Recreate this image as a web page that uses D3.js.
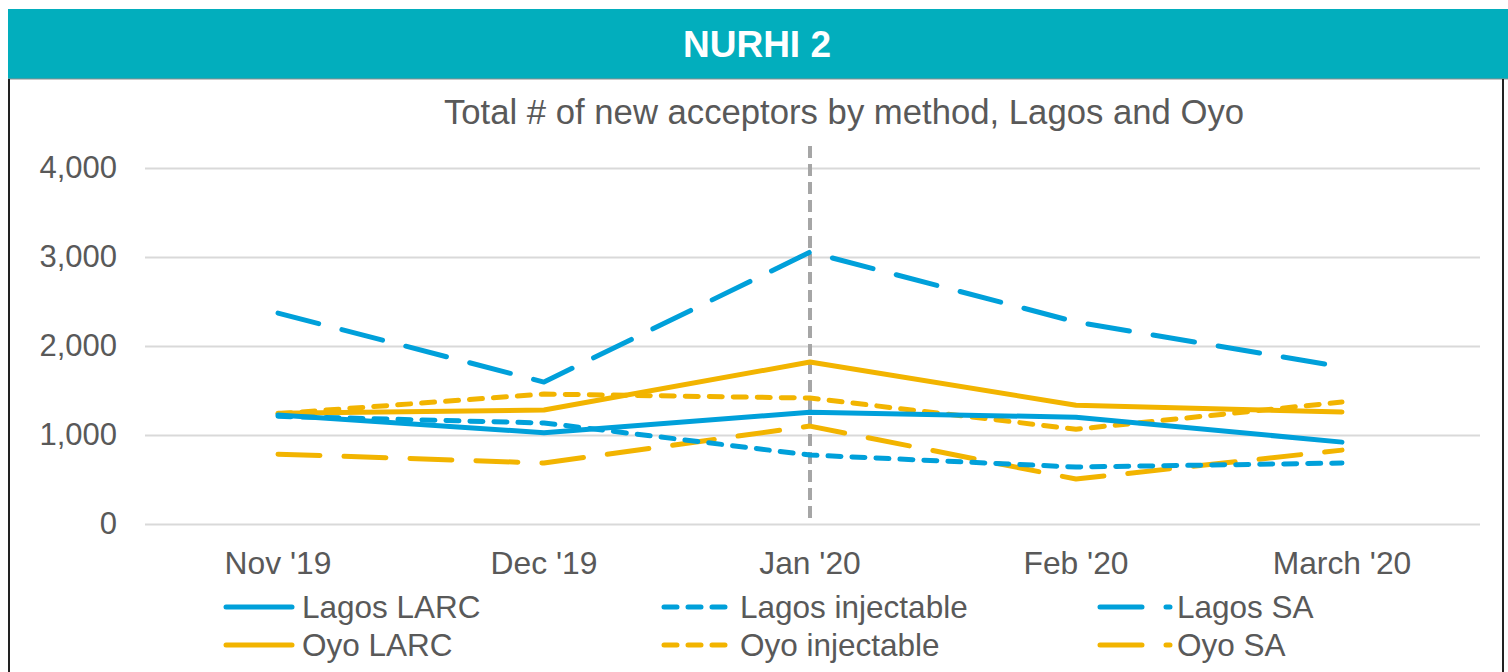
<!DOCTYPE html>
<html>
<head>
<meta charset="utf-8">
<script src="https://cdn.jsdelivr.net/npm/d3@7"></script>
<style>
body { margin: 0; background: #fff; }
text { font-family: "Liberation Sans", Arial, sans-serif; }
</style>
</head>
<body>
<script>
var months = ["Nov '19", "Dec '19", "Jan '20", "Feb '20", "March '20"];
var yTicks = [0, 1000, 2000, 3000, 4000];

var lagosLarc = [1225, 1025, 1255, 1200, 920];
var lagosInj  = [1210, 1135, 775, 640, 685];
var lagosSa   = [2370, 1595, 3055, 2270, 1765];
var oyoLarc   = [1245, 1280, 1820, 1335, 1258];
var oyoInj    = [1240, 1460, 1415, 1065, 1370];
var oyoSa     = [785, 685, 1100, 505, 830];

var seriesNames = ["Lagos LARC", "Lagos injectable", "Lagos SA", "Oyo LARC", "Oyo injectable", "Oyo SA"];

var blue = "#00A0DA", gold = "#F2B400";
var dashes = {solid: null, inj: "13,11", sa: "42,24"};

var series = [
	{name: seriesNames[0], values: lagosLarc, color: blue, dash: dashes.solid},
	{name: seriesNames[1], values: lagosInj, color: blue, dash: dashes.inj},
	{name: seriesNames[2], values: lagosSa, color: blue, dash: dashes.sa},
	{name: seriesNames[3], values: oyoLarc, color: gold, dash: dashes.solid},
	{name: seriesNames[4], values: oyoInj, color: gold, dash: dashes.inj},
	{name: seriesNames[5], values: oyoSa, color: gold, dash: dashes.sa}
];

var W = 1508, H = 672;
var plot = {left: 145, right: 1475, top: 168, bottom: 524};

var svg = d3.select("body")
			.append("svg")
			.attr("width", W)
			.attr("height", H);

/*Header band*/
svg.append("rect")
	.attr("x", 8).attr("y", 9)
	.attr("width", W - 8).attr("height", 70)
	.attr("fill", "#02AEBD");
svg.append("line")
	.attr("x1", 8).attr("x2", W).attr("y1", 79).attr("y2", 79)
	.attr("stroke", "#8c8c8c").attr("stroke-width", 1);
svg.append("text")
	.attr("x", 757).attr("y", 57)
	.attr("text-anchor", "middle")
	.attr("fill", "#fff")
	.attr("font-weight", "bold")
	.attr("font-size", 37)
	.text("NURHI 2");

/*Frame sides*/
svg.append("line")
	.attr("x1", 9).attr("x2", 9).attr("y1", 79).attr("y2", H)
	.attr("stroke", "#222").attr("stroke-width", 2);
svg.append("line")
	.attr("x1", 1503).attr("x2", 1503).attr("y1", 79).attr("y2", H)
	.attr("stroke", "#222").attr("stroke-width", 2);

/*Title*/
svg.append("text")
	.attr("x", 844).attr("y", 124)
	.attr("text-anchor", "middle")
	.attr("fill", "#595959")
	.attr("font-size", 34.7)
	.text("Total # of new acceptors by method, Lagos and Oyo");

/*Scales*/
var xScale = d3.scaleBand()
				.domain(months)
				.range([plot.left, plot.right]);
var yScale = d3.scaleLinear()
				.domain([0, 4000])
				.range([plot.bottom, plot.top]);

/*Grid + y axis*/
var yAxis = d3.axisLeft()
				.scale(yScale)
				.tickValues(yTicks)
				.tickFormat(d3.format(","))
				.tickSize(-(plot.right - plot.left + 5))
				.tickPadding(28);
var gy = svg.append("g")
	.attr("transform", "translate(" + plot.left + ",0)")
	.call(yAxis);
gy.select(".domain").remove();
gy.selectAll(".tick line")
	.attr("x1", 0)
	.attr("x2", plot.right - plot.left + 5)
	.attr("stroke", "#D9D9D9")
	.attr("stroke-width", 2);
gy.selectAll(".tick text")
	.attr("fill", "#595959")
	.attr("font-size", 31)
	.attr("font-family", "Liberation Sans, Arial, sans-serif");

/*x axis labels*/
var xAxis = d3.axisBottom()
				.scale(xScale)
				.tickSize(0)
				.tickPadding(27);
var gx = svg.append("g")
	.attr("transform", "translate(0," + plot.bottom + ")")
	.call(xAxis);
gx.select(".domain").remove();
gx.selectAll(".tick text")
	.attr("fill", "#595959")
	.attr("font-size", 31.8)
	.attr("font-family", "Liberation Sans, Arial, sans-serif");

/*Jan marker line*/
svg.append("line")
	.attr("x1", xScale("Jan '20") + xScale.bandwidth() / 2)
	.attr("x2", xScale("Jan '20") + xScale.bandwidth() / 2)
	.attr("y1", 146).attr("y2", plot.bottom)
	.attr("stroke", "#A6A6A6")
	.attr("stroke-width", 4)
	.attr("stroke-dasharray", "12,6");

/*Lines*/
var line = d3.line()
	.x(function(d, i) { return xScale(months[i]) + xScale.bandwidth() / 2; })
	.y(function(d) { return yScale(d); });

var drawOrder = [3, 4, 5, 0, 1, 2];
drawOrder.forEach(function(k) {
	var s = series[k];
	svg.append("path")
		.datum(s.values)
		.attr("d", line)
		.attr("fill", "none")
		.attr("stroke", s.color)
		.attr("stroke-width", 5)
		.attr("stroke-linecap", "round")
		.attr("stroke-linejoin", "round")
		.attr("stroke-dasharray", s.dash);
});

/*Legend*/
var legCols = [224, 662, 1098];
var legRows = [607, 645];
var leg = svg.selectAll(".legend")
	.data(series)
	.enter()
	.append("g")
	.attr("class", "legend")
	.attr("transform", function(d, i) {
		return "translate(" + legCols[i % 3] + "," + legRows[Math.floor(i / 3)] + ")";
	});
leg.append("line")
	.attr("x1", 2).attr("x2", function(d) { return d.dash === dashes.sa ? 72 : 68; })
	.attr("y1", 0).attr("y2", 0)
	.attr("stroke", function(d) { return d.color; })
	.attr("stroke-width", 5)
	.attr("stroke-linecap", "round")
	.attr("stroke-dasharray", function(d) { return d.dash; });
leg.append("text")
	.attr("x", function(d) { return d.dash === dashes.sa ? 79 : 78; })
	.attr("y", 0)
	.attr("dy", "0.35em")
	.attr("fill", "#595959")
	.attr("font-size", 31.5)
	.text(function(d) { return d.name; });
</script>
</body>
</html>
